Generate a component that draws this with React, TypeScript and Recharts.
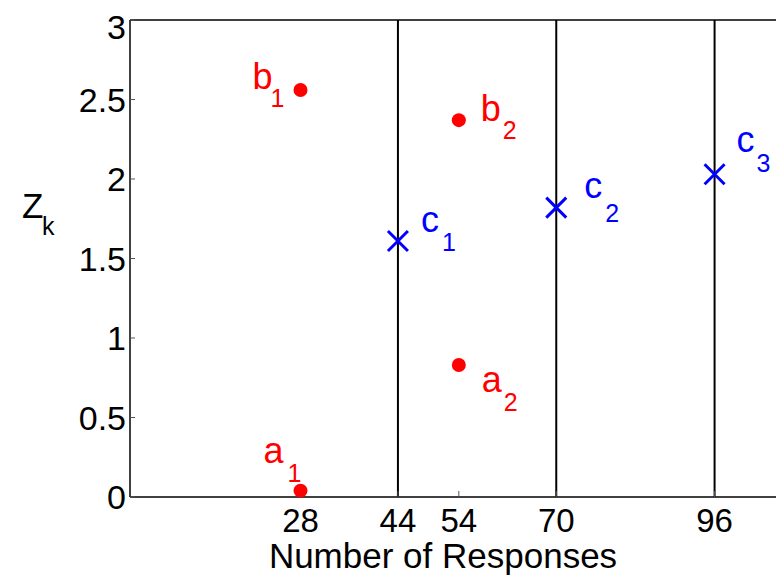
import { ScatterChart, Scatter, XAxis, YAxis, ReferenceLine, Label } from "recharts";

// responses / Z_k values
const aResponses = [28, 54];
const aValues = [0.04, 0.83];
const bResponses = [28, 54];
const bValues = [2.56, 2.37];
const cResponses = [44, 70, 96];
const cValues = [1.61, 1.82, 2.03];
const boundaries = [44, 70, 96];

const xTicks = [28, 44, 54, 70, 96];
const yTicks = [0, 0.5, 1, 1.5, 2, 2.5, 3];

const FONT = "'Liberation Sans', Arial, sans-serif";
const RED = "#ff0000";
const BLUE = "#0000ff";

// where each label sits relative to its marker (letter, then subscript)
const labelPlace: Record<string, { dx: number; dy: number; sx: number; sy: number }> = {
  a1: { dx: -37, dy: -28, sx: -13, sy: -9 },
  a2: { dx: 23, dy: 27, sx: 45, sy: 46 },
  b1: { dx: -48, dy: -1, sx: -30, sy: 17 },
  b2: { dx: 22, dy: 1, sx: 44, sy: 19 },
  c1: { dx: 23, dy: -9, sx: 44, sy: 10 },
  c2: { dx: 28, dy: -10, sx: 49, sy: 14 },
  c3: { dx: 22, dy: -22, sx: 42, sy: -2 },
};

const toPoints = (letter: string, xs: number[], ys: number[]) =>
  xs.map((x, i) => ({ x, y: ys[i], letter, idx: String(i + 1) }));

const aData = toPoints("a", aResponses, aValues);
const bData = toPoints("b", bResponses, bValues);
const cData = toPoints("c", cResponses, cValues);

function PointLabel({ cx, cy, p, color }: any) {
  const o = labelPlace[p.letter + p.idx];
  return (
    <g fontFamily={FONT} fill={color}>
      <text x={cx + o.dx} y={cy + o.dy} fontSize={36}>{p.letter}</text>
      <text x={cx + o.sx} y={cy + o.sy} fontSize={25}>{p.idx}</text>
    </g>
  );
}

const dotShape = (props: any) => (
  <g>
    <circle cx={props.cx} cy={props.cy} r={7} fill={RED} />
    <PointLabel cx={props.cx} cy={props.cy} p={props.payload} color={RED} />
  </g>
);

const crossShape = (props: any) => {
  const { cx, cy } = props;
  const s = 10;
  return (
    <g>
      <path d={`M${cx - s},${cy - s}L${cx + s},${cy + s}M${cx - s},${cy + s}L${cx + s},${cy - s}`} stroke={BLUE} strokeWidth={3} />
      <PointLabel cx={cx} cy={cy} p={props.payload} color={BLUE} />
    </g>
  );
};

const fmtY = (v: number) => String(v);

export default function App() {
  return (
    <div style={{ width: 776, height: 571 }}>
      <style>{"html{overflow:hidden}"}</style>
      <ScatterChart width={776} height={571} margin={{ top: 12, right: 0, bottom: 0, left: 0 }}>
        <XAxis
          type="number"
          dataKey="x"
          domain={[0, 107.4]}
          ticks={xTicks}
          allowDataOverflow
          height={82}
          tickSize={-6}
          tickMargin={18}
          axisLine={{ stroke: "#000", strokeWidth: 1.5 }}
          tickLine={{ stroke: "#555" }}
          tick={{ fill: "#000", fontSize: 33, fontFamily: FONT }}
        >
          <Label
            content={() => (
              <text x={435} y={560} textAnchor="middle" fontSize={35} fontFamily={FONT} fill="#000">
                Number of Responses
              </text>
            )}
          />
        </XAxis>
        <YAxis
          type="number"
          dataKey="y"
          domain={[0, 3]}
          ticks={yTicks}
          width={122}
          tickSize={-5}
          tickMargin={9}
          tickFormatter={fmtY}
          axisLine={{ stroke: "#000", strokeWidth: 1.5 }}
          tickLine={{ stroke: "#555" }}
          tick={{ fill: "#000", fontSize: 34, fontFamily: FONT }}
        >
          <Label
            content={() => (
              <g fontFamily={FONT} fill="#000">
                <text x={14} y={210} fontSize={35}>Z</text>
                <text x={34} y={227} fontSize={25}>k</text>
              </g>
            )}
          />
        </YAxis>
        <ReferenceLine y={3} stroke="#000" strokeWidth={1.5} />
        {boundaries.map((b) => (
          <ReferenceLine key={b} x={b} stroke="#000" strokeWidth={2} />
        ))}
        <Scatter data={aData} shape={dotShape} isAnimationActive={false} />
        <Scatter data={bData} shape={dotShape} isAnimationActive={false} />
        <Scatter data={cData} shape={crossShape} isAnimationActive={false} />
      </ScatterChart>
    </div>
  );
}
